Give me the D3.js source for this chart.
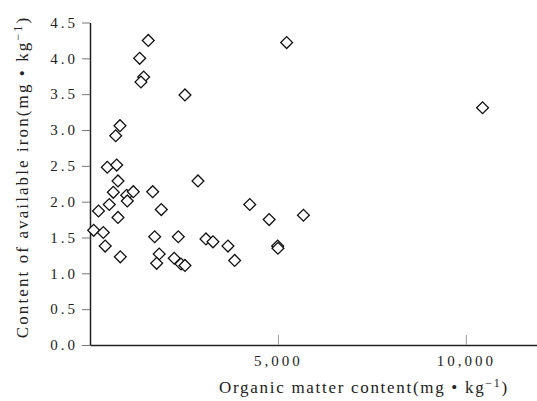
<!DOCTYPE html>
<html>
<head>
<meta charset="utf-8">
<title>Organic matter vs available iron</title>
<script src="https://d3js.org/d3.v7.min.js"></script>
<style>
  body { margin: 0; background: #fff; }
  text { font-family: "Liberation Serif", "DejaVu Serif", serif; fill: #222; }
  .tick text { font-size: 15px; letter-spacing: 3px; }
  .title { font-size: 17px; }
</style>
</head>
<body>
<script>
// organic matter content (mg/kg) and available iron (mg/kg) for each sample
var organic = [1551, 1322, 1428, 1356, 2527, 5232, 10445, 798, 684, 460,
               710, 745, 620, 976, 992, 1152, 513, 226, 745, 1668,
               1897, 2873, 98, 354, 404, 806, 1721, 1841, 1774, 2349,
               2240, 2421, 2527, 3086, 3272, 3671, 3849, 4251, 4767, 5679,
               4993, 5001];
var iron = [4.25, 4.00, 3.74, 3.67, 3.49, 4.22, 3.31, 3.06, 2.92, 2.48,
            2.51, 2.29, 2.13, 2.09, 2.01, 2.14, 1.96, 1.87, 1.78, 2.14,
            1.89, 2.29, 1.60, 1.57, 1.38, 1.23, 1.51, 1.27, 1.14, 1.51,
            1.21, 1.13, 1.11, 1.48, 1.44, 1.38, 1.18, 1.96, 1.75, 1.81,
            1.38, 1.35];
var xTicks = [5000, 10000];
var yTicks = [0, 0.5, 1, 1.5, 2, 2.5, 3, 3.5, 4, 4.5];

var width = 537, height = 401;
var svg = d3.select("body").append("svg")
    .attr("width", width).attr("height", height);

var x = d3.scaleLinear().domain([0, 12000]).range([90, 541]);
var y = d3.scaleLinear().domain([0, 4.5]).range([345, 22.5]);

var xAxis = svg.append("g")
    .attr("transform", "translate(0,345)")
    .call(d3.axisBottom(x).tickValues(xTicks).tickSize(-10).tickSizeOuter(0)
        .tickPadding(10).tickFormat(d3.format(",")));
xAxis.select(".domain").attr("stroke", "#222").attr("stroke-width", 1.5);
xAxis.selectAll(".tick line").attr("stroke", "#999");

var yAxis = svg.append("g")
    .attr("transform", "translate(90,0)")
    .call(d3.axisLeft(y).tickValues(yTicks).tickSize(8).tickSizeOuter(0)
        .tickPadding(4).tickFormat(d3.format(".1f")));
yAxis.select(".domain").attr("stroke", "#222").attr("stroke-width", 1.5);
yAxis.selectAll(".tick line").attr("stroke", "#777");

var diamond = d3.symbol().type(d3.symbolSquare).size(70);
svg.append("g").selectAll("path")
    .data(organic)
  .enter().append("path")
    .attr("d", diamond)
    .attr("transform", function(d, i) {
        return "translate(" + x(d) + "," + y(iron[i]) + ") rotate(45)";
    })
    .attr("fill", "#fff")
    .attr("stroke", "#111")
    .attr("stroke-width", 1.3);

var xt = svg.append("text").attr("class", "title")
    .attr("x", 364).attr("y", 393)
    .attr("text-anchor", "middle")
    .style("letter-spacing", "1.7px");
xt.append("tspan").text("Organic matter content(mg \u2022 kg");
xt.append("tspan").attr("dy", -6).attr("font-size", "12px").text("\u22121");
xt.append("tspan").attr("dy", 6).text(")");

var yt = svg.append("text").attr("class", "title")
    .attr("transform", "translate(28,177) rotate(-90)")
    .attr("text-anchor", "middle")
    .style("letter-spacing", "2.1px");
yt.append("tspan").text("Content of available iron(mg \u2022 kg");
yt.append("tspan").attr("dy", -6).attr("font-size", "12px").text("\u22121");
yt.append("tspan").attr("dy", 6).text(")");
</script>
</body>
</html>
